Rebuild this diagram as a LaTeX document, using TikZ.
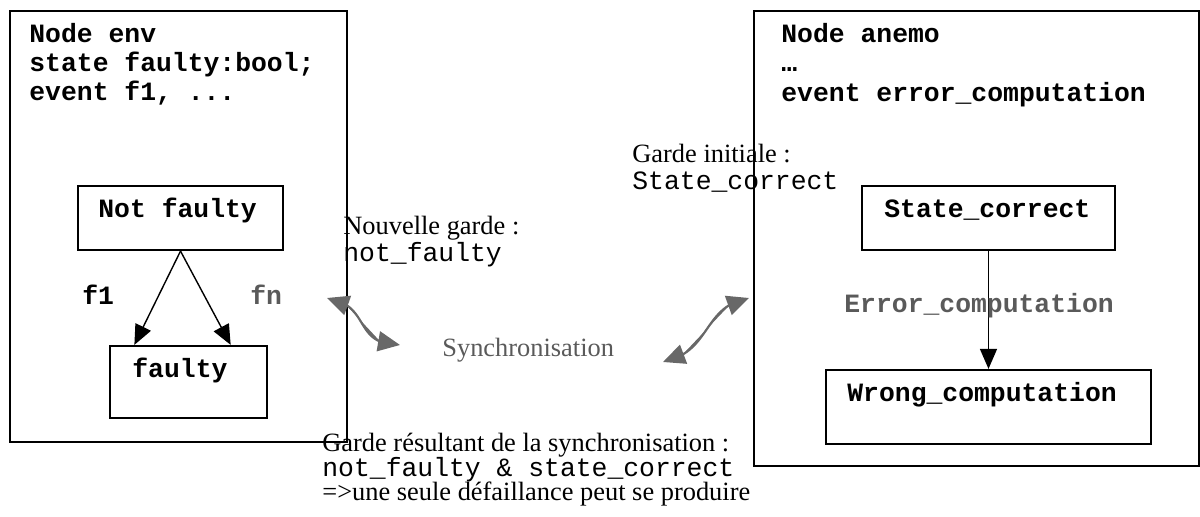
\documentclass[tikz,border=0pt]{standalone}
\usepackage{fontspec}
\setmainfont{Liberation Serif}
\setmonofont{Liberation Mono}
\usetikzlibrary{arrows.meta,bending,fit,calc}
\definecolor{syncgray}{HTML}{686868}
\definecolor{labgray}{HTML}{5A5A5A}
\newcommand{\fsz}{\fontsize{13.2}{15}\selectfont}
\tikzset{
  outerbox/.style={draw, line width=0.7pt, inner sep=0pt},
  statebox/.style={draw, line width=1.1pt, inner sep=0pt},
  codetxt/.style={anchor=base west, inner sep=0pt, font=\fsz\ttfamily\bfseries},
  monotxt/.style={anchor=base west, inner sep=0pt, font=\fsz\ttfamily},
  serifx/.style={anchor=base west, inner sep=0pt, font=\fsz\rmfamily},
  trans/.style={-{Triangle[length=10pt,width=8.5pt]}, line width=0.7pt, black},
  syncarrow/.style={{Triangle[length=11pt,width=10pt]}-{Triangle[length=11pt,width=10pt]}, line width=1.1pt, draw=syncgray, fill=syncgray}
}
\begin{document}
\begin{tikzpicture}[x=0.5pt,y=-0.5pt]
\useasboundingbox (0,0) rectangle (1200,517);
% outer boxes
\node[outerbox, fit={(10,11) (347,442)}] (envbox) {};
\node[outerbox, fit={(754,11) (1199,466)}] (anemobox) {};
% left box texts
\node[codetxt] (envt1) at (29,43) {Node env};
\node[codetxt] (envt2) at (29,72) {state faulty:bool;};
\node[codetxt] (envt3) at (29,101) {event f1, ...};
% right box texts
\node[codetxt] (anet1) at (781,43) {Node anemo};
\node[codetxt] (anet2) at (781,72) {…};
\node[codetxt] (anet3) at (781,102) {event error\_computation};
% state boxes
\node[statebox, fit={(78,186) (283,250)}] (nf) {};
\node[codetxt] (nft) at (98,218) {Not faulty};
\node[statebox, fit={(110,346) (267,418)}] (fb) {};
\node[codetxt] (fbt) at (132,378) {faulty};
\node[statebox, fit={(862,186) (1115,250)}] (sc) {};
\node[codetxt] (sct) at (884,218) {State\_correct};
\node[statebox, fit={(826,370) (1151,444)}] (wc) {};
\node[codetxt] (wct) at (847,402) {Wrong\_computation};
% transitions
\draw[trans] (nf.south) -- ($(fb.north west)!0.16!(fb.north east)$);
\draw[trans] (nf.south) -- ($(fb.north west)!0.765!(fb.north east)$);
\draw[trans] (sc.south) -- (wc.north);
% transition labels
\node[codetxt] (f1l) at (82,305) {f1};
\node[codetxt, text=labgray] (fnl) at (250,305) {fn};
\node[codetxt, text=labgray] (ecl) at (844,313) {Error\_computation};
% guards
\node[serifx] (gi1) at (632,163) {Garde initiale :};
\node[monotxt] (gi2) at (632,190) {State\_correct};
\node[serifx] (ng1) at (343,235) {Nouvelle garde :};
\node[monotxt] (ng2) at (343,262) {not\_faulty};
\node[serifx, text=labgray] (sync) at (442,357) {Synchronisation};
\node[serifx] (gr1) at (322,452) {Garde résultant de la synchronisation :};
\node[monotxt] (gr2) at (322,477) {not\_faulty \& state\_correct};
\node[serifx] (gr3) at (322,501) {=>une seule défaillance peut se produire};
% synchronisation arrows
\coordinate (la) at (327,298);
\coordinate (lb) at (400,345);
\coordinate (ra) at (663,362);
\coordinate (rb) at (749,298);
\draw[syncarrow] (la) .. controls (372,305) and (352,345) .. (lb);
\draw[syncarrow] (ra) .. controls (712,352) and (702,306) .. (rb);
\end{tikzpicture}
\end{document}
